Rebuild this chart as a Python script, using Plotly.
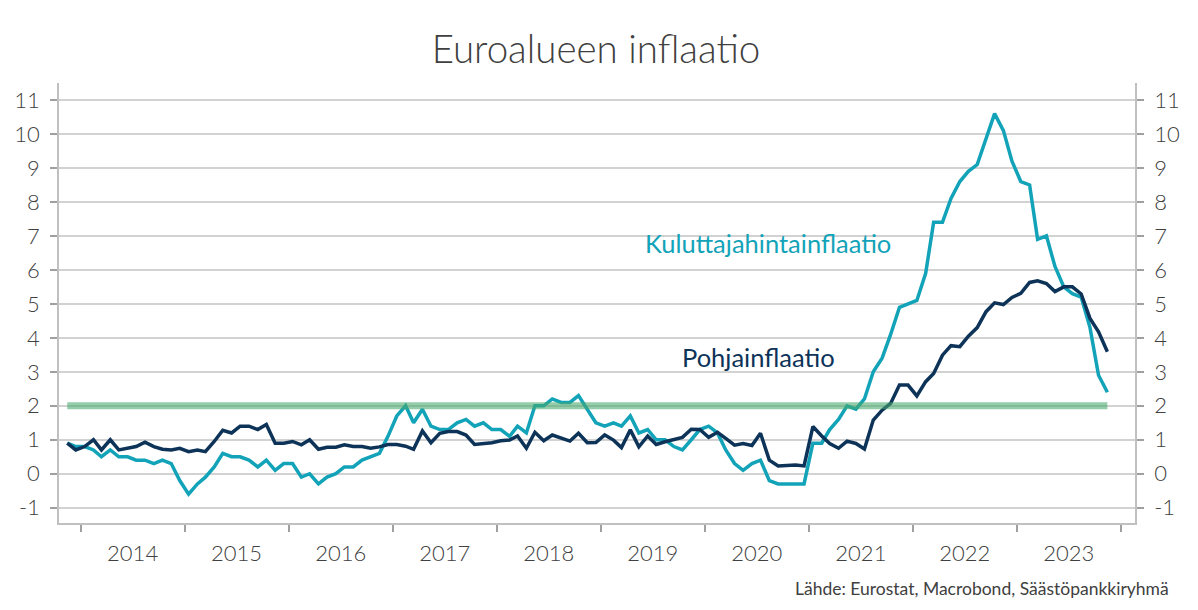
import pandas as pd
import plotly.graph_objects as go

# Monthly observations, Nov 2013 .. Nov 2023 (plotted mid-month)
start_month = "2013-11-01"
n_months = 121

cpi = [
    0.9, 0.8,
    0.8, 0.7, 0.5, 0.7, 0.5, 0.5, 0.4, 0.4, 0.3, 0.4, 0.3, -0.2,
    -0.6, -0.3, -0.1, 0.2, 0.6, 0.5, 0.5, 0.4, 0.2, 0.4, 0.1, 0.3,
    0.3, -0.1, 0.0, -0.3, -0.1, 0.0, 0.2, 0.2, 0.4, 0.5, 0.6, 1.1,
    1.7, 2.0, 1.5, 1.9, 1.4, 1.3, 1.3, 1.5, 1.6, 1.4, 1.5, 1.3,
    1.3, 1.1, 1.4, 1.2, 2.0, 2.0, 2.2, 2.1, 2.1, 2.3, 1.9, 1.5,
    1.4, 1.5, 1.4, 1.7, 1.2, 1.3, 1.0, 1.0, 0.8, 0.7, 1.0, 1.3,
    1.4, 1.2, 0.7, 0.3, 0.1, 0.3, 0.4, -0.2, -0.3, -0.3, -0.3, -0.3,
    0.9, 0.9, 1.3, 1.6, 2.0, 1.9, 2.2, 3.0, 3.4, 4.1, 4.9, 5.0,
    5.1, 5.9, 7.4, 7.4, 8.1, 8.6, 8.9, 9.1, 9.9, 10.6, 10.1, 9.2,
    8.6, 8.5, 6.9, 7.0, 6.1, 5.5, 5.3, 5.2, 4.3, 2.9, 2.4,
]

core = [
    0.9, 0.7,
    0.8, 1.0, 0.7, 1.0, 0.7, 0.75, 0.8, 0.93, 0.8, 0.72, 0.7, 0.75,
    0.65, 0.7, 0.65, 0.95, 1.28, 1.2, 1.4, 1.4, 1.3, 1.45, 0.9, 0.9,
    0.95, 0.85, 1.0, 0.72, 0.78, 0.78, 0.85, 0.8, 0.8, 0.75, 0.79, 0.86,
    0.86, 0.81, 0.72, 1.26, 0.91, 1.19, 1.24, 1.24, 1.14, 0.86, 0.89, 0.91,
    0.97, 0.99, 1.11, 0.75, 1.22, 0.97, 1.14, 1.04, 0.96, 1.19, 0.91, 0.92,
    1.14, 0.99, 0.77, 1.29, 0.79, 1.11, 0.86, 0.94, 1.01, 1.07, 1.31, 1.30,
    1.07, 1.22, 1.04, 0.84, 0.89, 0.83, 1.19, 0.40, 0.23, 0.24, 0.26, 0.23,
    1.39, 1.11, 0.89, 0.75, 0.96, 0.89, 0.73, 1.58, 1.87, 2.07, 2.61, 2.61,
    2.29, 2.71, 2.95, 3.49, 3.77, 3.74, 4.05, 4.30, 4.77, 5.03, 4.98, 5.19,
    5.31, 5.63, 5.68, 5.60, 5.36, 5.50, 5.50, 5.29, 4.57, 4.18, 3.59,
]

target = [2.0] * n_months

title_text = "Euroalueen inflaatio"
label_cpi = "Kuluttajahintainflaatio"
label_core = "Pohjainflaatio"
source_text = "Lähde: Eurostat, Macrobond, Säästöpankkiryhmä"
y_ticks = list(range(-1, 12))
y_ticktext = [str(v) for v in y_ticks]

dates = pd.date_range(start=start_month, periods=n_months, freq="MS") + pd.Timedelta(days=14)

FONT = "Lato"
C_CPI = "#13a3b9"
C_CORE = "#0d3358"
C_TXT = "#404040"

# the page body adds an 8px offset, so the figure is 8px smaller on each side
W, H = 1190, 602

fig = go.Figure()
fig.add_trace(go.Scatter(x=dates, y=cpi, mode="lines", name=label_cpi,
                         line=dict(color=C_CPI, width=3.5), yaxis="y"))
fig.add_trace(go.Scatter(x=dates, y=core, mode="lines", name=label_core,
                         line=dict(color=C_CORE, width=3.5), yaxis="y"))
fig.add_trace(go.Scatter(x=dates, y=target, mode="lines", name="Tavoite",
                         line=dict(color="rgba(70,168,108,0.58)", width=7), yaxis="y2"))

yrange = [-1.45, 11.5]
common_y = dict(range=yrange, tickvals=y_ticks, ticktext=y_ticktext,
                ticks="outside", ticklen=7,
                tickcolor="#a0a0a0", tickwidth=1.5,
                tickfont=dict(family=FONT, size=22, color=C_TXT, weight=300),
                showline=True, linecolor="#c0c0c0", linewidth=1.5,
                zeroline=False, ticklabelstandoff=6, automargin=False)

fig.update_layout(
    width=W, height=H,
    margin=dict(l=51, r=63, t=75, b=87, autoexpand=False),
    paper_bgcolor="white", plot_bgcolor="white",
    showlegend=False,
    title=dict(text=title_text, x=588 / W, xanchor="center", y=1 - 42 / H, yanchor="middle",
               font=dict(family=FONT, size=38.5, color=C_TXT, weight=300)),
    xaxis=dict(type="date", range=["2013-10-17", "2024-02-20"],
               tick0="2014-01-01", dtick="M12", tickformat="%Y",
               ticklabelmode="period", ticks="outside", ticklen=7,
               tickcolor="#a0a0a0", tickwidth=1.5,
               tickfont=dict(family=FONT, size=22, color=C_TXT, weight=300),
               showline=True, linecolor="#c0c0c0", linewidth=1.5,
               showgrid=False, ticklabelstandoff=3, automargin=False),
    yaxis=dict(side="left", showgrid=True, gridcolor="#d2d2d2", gridwidth=1.5, **common_y),
    yaxis2=dict(side="right", overlaying="y", showgrid=False, matches="y", **common_y),
    annotations=[
        dict(text=label_cpi, xref="paper", yref="y", x=(643 - 59) / 1076, y=6.8,
             xanchor="left", yanchor="middle", showarrow=False,
             font=dict(family=FONT, size=25.5, color=C_CPI)),
        dict(text=label_core, xref="paper", yref="y", x=(680 - 59) / 1076, y=3.43,
             xanchor="left", yanchor="middle", showarrow=False,
             font=dict(family=FONT, size=25.5, color=C_CORE)),
        dict(text=source_text, xref="paper", yref="paper", x=(1171 - 59) / 1076, y=-0.148,
             xanchor="right", yanchor="middle", showarrow=False,
             font=dict(family=FONT, size=17.5, color=C_TXT)),
    ],
)

fig.write_html("out.html")
